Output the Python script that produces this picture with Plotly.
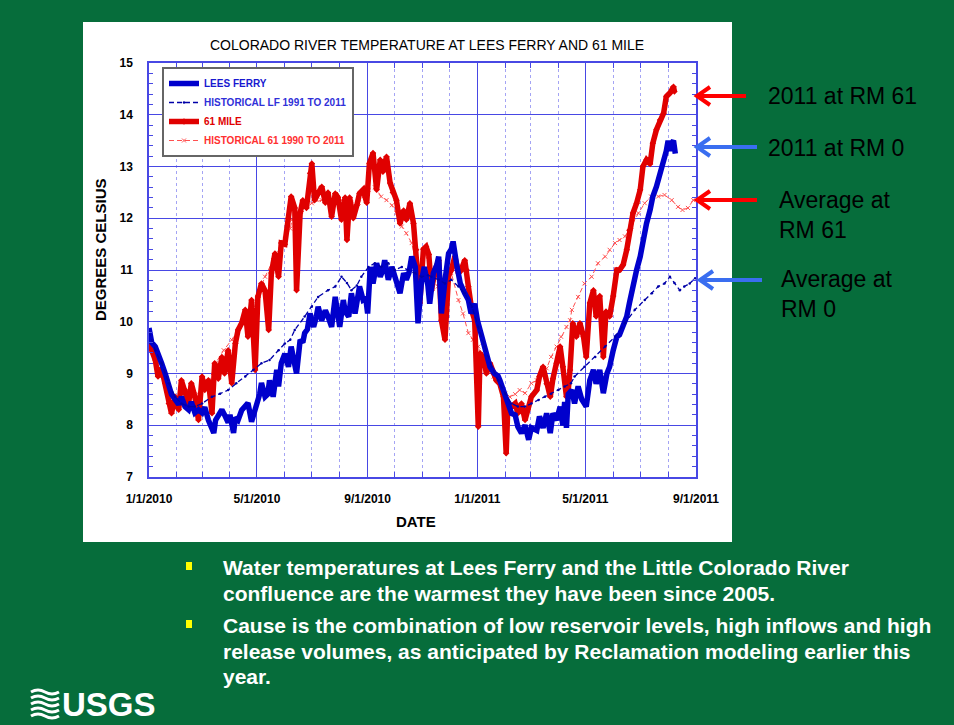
import plotly.graph_objects as go
import pandas as pd

# ---------------- data (days since 1/1/2010, degrees C) ----------------
BASE = pd.Timestamp("2010-01-01")

lf_day = [0, 3, 7, 10, 14, 18, 22, 25, 29, 33,
          36, 40, 44, 47, 51, 55, 59, 62, 66, 70,
          72, 74, 77, 81, 84, 88, 90, 92, 94, 96,
          99, 103, 107, 110, 114, 118, 120, 123, 125, 129,
          132, 134, 138, 140, 142, 144, 147, 151, 155, 158,
          162, 164, 168, 171, 173, 176, 179, 183, 186, 188,
          192, 196, 199, 203, 207, 210, 212, 216, 218, 222,
          225, 229, 232, 234, 238, 241, 243, 246, 249, 253,
          257, 260, 262, 266, 270, 273, 275, 279, 283, 286,
          289, 292, 296, 299, 303, 306, 310, 312, 316, 320,
          322, 325, 329, 333, 336, 338, 342, 346, 351, 355,
          358, 362, 365, 368, 372, 375, 379, 384, 388, 390,
          396, 399, 403, 407, 410, 414, 418, 422, 425, 431,
          434, 438, 442, 446, 449, 453, 457, 460, 462, 464,
          466, 470, 473, 477, 481, 486, 490, 494, 497, 501,
          505, 509, 512, 516, 520, 523, 527, 531, 534, 538,
          542, 546, 549, 553, 557, 560, 564, 568, 572, 575,
          577, 579, 581, 583, 585]
lf_temp = [9.88, 9.60, 9.52, 9.35, 9.20, 9.00, 8.80, 8.60, 8.50, 8.40,
           8.55, 8.36, 8.30, 8.45, 8.24, 8.30, 8.24, 8.35, 8.10, 7.95,
           7.85, 8.10, 8.17, 8.30, 8.20, 8.05, 8.20, 7.95, 7.85, 8.15,
           8.10, 8.29, 8.35, 8.43, 8.07, 8.30, 8.43, 8.60, 8.82, 8.55,
           8.60, 8.87, 8.55, 8.80, 9.07, 8.75, 9.20, 9.38, 9.13, 9.52,
           9.20, 9.00, 9.65, 9.60, 9.78, 9.85, 10.16, 9.90, 10.10, 10.29,
           10.03, 10.22, 10.10, 9.90, 10.48, 10.20, 9.90, 10.42, 10.20, 10.10,
           10.55, 10.16, 10.40, 10.68, 10.42, 10.45, 10.16, 11.06, 10.74, 11.13,
           10.87, 11.00, 11.19, 10.81, 11.06, 10.90, 10.81, 10.55, 10.94, 10.81,
           10.95, 11.26, 11.06, 9.97, 10.80, 11.06, 10.70, 10.35, 10.94, 11.10,
           11.26, 10.16, 10.80, 11.32, 11.40, 11.55, 11.10, 10.74, 10.55, 10.42,
           10.16, 10.35, 10.03, 9.84, 9.58, 9.32, 9.13, 9.00, 8.95, 8.87,
           8.55, 8.36, 8.23, 8.20, 7.97, 7.85, 8.00, 7.72, 7.95, 7.90,
           8.17, 7.95, 8.23, 7.85, 8.23, 8.10, 8.36, 8.00, 8.45, 7.95,
           8.60, 8.68, 8.42, 8.75, 8.50, 8.36, 8.87, 9.07, 8.80, 9.07,
           8.62, 9.00, 9.13, 9.45, 9.71, 9.75, 9.90, 10.10, 10.36, 10.74,
           11.00, 11.26, 11.58, 11.90, 12.16, 12.42, 12.61, 12.87, 13.06, 13.30,
           13.50, 13.30, 13.45, 13.50, 13.25]

hlf_day = [0, 7, 14, 22, 29, 36, 44, 51, 59, 70,
           79, 88, 97, 107, 116, 125, 134, 144, 151, 157,
           162, 173, 181, 188, 199, 207, 214, 220, 225, 231,
           236, 244, 251, 258, 266, 273, 281, 288, 296, 303,
           310, 314, 322, 329, 336, 344, 351, 359, 366, 373,
           381, 388, 396, 403, 410, 418, 425, 433, 440, 447,
           455, 462, 469, 473, 484, 496, 507, 518, 529, 540,
           551, 559, 566, 573, 579, 584, 590, 595, 601, 607]
hlf_temp = [9.81, 9.45, 9.20, 8.81, 8.55, 8.42, 8.36, 8.36, 8.42, 8.55,
            8.61, 8.68, 8.81, 8.94, 9.07, 9.20, 9.26, 9.45, 9.58, 9.65,
            9.84, 10.10, 10.29, 10.48, 10.61, 10.68, 10.87, 10.75, 10.61, 10.70,
            10.87, 11.06, 11.13, 11.06, 11.13, 11.00, 11.06, 11.00, 10.94, 10.87,
            10.90, 10.87, 10.81, 10.74, 10.81, 10.68, 10.55, 10.29, 9.90, 9.52,
            9.13, 8.87, 8.61, 8.42, 8.36, 8.36, 8.42, 8.49, 8.55, 8.61,
            8.68, 8.75, 8.81, 8.94, 9.13, 9.32, 9.52, 9.71, 9.97, 10.23,
            10.42, 10.55, 10.68, 10.74, 10.87, 10.75, 10.61, 10.68, 10.74, 10.84]

rm_day = [0, 3, 7, 10, 14, 18, 22, 25, 29, 33,
          36, 40, 44, 47, 51, 55, 59, 62, 66, 70,
          73, 77, 81, 84, 88, 92, 96, 99, 103, 107,
          110, 114, 118, 121, 125, 129, 133, 136, 140, 144,
          147, 151, 155, 158, 162, 164, 168, 171, 175, 179,
          181, 184, 188, 192, 196, 199, 203, 207, 210, 214,
          218, 220, 223, 227, 231, 234, 238, 242, 245, 249,
          253, 257, 260, 264, 268, 271, 275, 279, 283, 286,
          290, 294, 297, 299, 301, 305, 308, 311, 314, 318,
          322, 325, 329, 333, 336, 340, 344, 347, 351, 353,
          355, 359, 362, 366, 368, 372, 375, 379, 383, 386,
          390, 394, 397, 399, 403, 407, 410, 414, 418, 421,
          425, 431, 434, 438, 442, 446, 449, 453, 457, 460,
          464, 466, 468, 471, 475, 479, 483, 486, 490, 494,
          497, 501, 505, 508, 512, 516, 520, 523, 527, 531,
          534, 538, 542, 546, 549, 553, 557, 560, 564, 568,
          572, 575, 579, 583, 584]
rm_temp = [9.70, 9.45, 9.26, 8.94, 9.10, 8.81, 8.42, 8.23, 8.55, 8.30,
           8.87, 8.68, 8.42, 8.81, 8.55, 8.10, 8.94, 8.68, 8.87, 8.23,
           9.20, 8.90, 9.32, 9.00, 9.45, 8.81, 9.58, 9.84, 9.97, 10.23,
           9.71, 10.42, 9.07, 10.48, 10.74, 10.60, 9.84, 10.94, 11.32, 10.87,
           11.52, 11.50, 12.00, 12.42, 12.20, 10.61, 12.10, 12.35, 12.20, 12.87,
           13.06, 12.35, 12.50, 12.61, 12.30, 12.50, 12.03, 12.48, 12.40, 11.97,
           12.40, 11.58, 12.40, 12.00, 12.25, 12.48, 12.55, 12.30, 13.06, 13.26,
           12.55, 13.13, 12.90, 13.19, 12.68, 12.50, 12.35, 11.90, 12.15, 11.97,
           12.29, 11.90, 11.39, 10.81, 10.36, 11.40, 11.45, 11.30, 10.61, 11.00,
           11.19, 10.03, 9.65, 10.90, 11.00, 11.26, 10.94, 11.00, 11.19, 11.00,
           10.68, 10.20, 10.03, 7.97, 9.39, 9.30, 9.00, 9.20, 9.00, 8.87,
           8.80, 8.55, 7.46, 8.42, 8.36, 8.42, 8.23, 8.42, 8.10, 8.30,
           8.55, 8.68, 8.94, 9.13, 8.80, 8.55, 8.90, 9.20, 9.52, 9.13,
           8.55, 8.68, 9.07, 9.97, 9.71, 9.97, 9.71, 9.32, 10.36, 10.61,
           10.10, 10.50, 9.32, 10.20, 10.10, 10.50, 11.00, 11.00, 11.10, 11.39,
           11.77, 12.10, 12.29, 12.55, 13.00, 13.13, 13.05, 13.45, 13.71, 13.90,
           14.03, 14.35, 14.42, 14.54, 14.45]

h61_day = [0, 10, 22, 33, 44, 55, 66, 74, 83, 92,
           101, 110, 120, 129, 138, 147, 151, 157, 159, 170,
           181, 192, 203, 214, 225, 233, 244, 251, 258, 264,
           270, 275, 281, 286, 292, 297, 303, 307, 314, 321,
           329, 336, 344, 349, 355, 360, 366, 371, 377, 383,
           390, 396, 401, 407, 412, 418, 425, 431, 436, 442,
           447, 453, 458, 464, 468, 470, 477, 484, 492, 499,
           507, 512, 518, 523, 529, 536, 544, 551, 558, 566,
           573, 581, 588, 593, 599, 605]
h61_temp = [9.71, 9.20, 8.60, 8.42, 8.55, 8.60, 8.81, 9.20, 9.45, 9.65,
            9.90, 10.16, 10.48, 10.87, 11.19, 11.52, 11.60, 11.80, 11.97, 12.16,
            12.29, 12.35, 12.30, 12.35, 12.30, 12.30, 12.55, 12.60, 12.42, 12.35,
            12.25, 12.10, 11.84, 11.71, 11.52, 11.13, 10.94, 11.30, 11.00, 10.68,
            10.60, 10.94, 10.42, 10.16, 9.78, 9.65, 9.52, 9.32, 9.13, 8.94,
            8.81, 8.61, 8.55, 8.60, 8.68, 8.62, 8.81, 8.87, 9.00, 9.10,
            9.32, 9.52, 9.71, 9.90, 10.03, 10.23, 10.48, 10.74, 10.87, 11.13,
            11.26, 11.39, 11.52, 11.58, 11.65, 11.84, 12.10, 12.29, 12.42, 12.42,
            12.45, 12.35, 12.22, 12.16, 12.20, 12.35]

x_ticks = ["2010-01-01", "2010-05-01", "2010-09-01", "2011-01-01", "2011-05-01", "2011-09-01"]
x_ticktext = ["1/1/2010", "5/1/2010", "9/1/2010", "1/1/2011", "5/1/2011", "9/1/2011"]

TITLE = "COLORADO RIVER TEMPERATURE AT LEES FERRY AND 61 MILE"
callouts = ["2011 at RM 61", "2011 at RM 0", "Average at<br>RM 61", "Average at<br>RM 0"]
bullets = [["Water temperatures at Lees Ferry and the Little Colorado River",
            "confluence are the warmest they have been since 2005."],
           ["Cause is the combination of low reservoir levels, high inflows and high",
            "release volumes, as anticipated by Reclamation modeling earlier this",
            "year."]]


def dates(days):
    return BASE + pd.to_timedelta(days, unit="D")


# ---------------- layout helpers (pixel -> paper) ----------------
W, H = 954, 725
L, R, T, B = 149, 696, 63, 477


def px(x):
    return (x - L) / (R - L)


def py(y):
    return (B - y) / (B - T)


GREEN = "#066D3B"
BLUE = "#0000CC"
RED = "#E00000"
GRID = "#4848E4"
FONT = "Liberation Sans, Arial, sans-serif"

fig = go.Figure()

fig.add_trace(go.Scatter(
    x=dates(h61_day), y=h61_temp, mode="lines+markers",
    name='<span style="color:#FF3030">HISTORICAL 61 1990 TO 2011</span>',
    line=dict(color="#FF5050", width=1, dash="5px,3px"),
    marker=dict(symbol="x-thin", size=4, line=dict(color="#FF5050", width=1)),
    legendrank=4))
fig.add_trace(go.Scatter(
    x=dates(rm_day), y=rm_temp, mode="lines+markers",
    name='<span style="color:#E00000">61 MILE</span>',
    line=dict(color=RED, width=5.5),
    marker=dict(symbol="diamond", size=5, color=RED),
    legendrank=3))
fig.add_trace(go.Scatter(
    x=dates(lf_day), y=lf_temp, mode="lines",
    name='<span style="color:#1818D0">LEES FERRY</span>',
    line=dict(color=BLUE, width=5.5),
    legendrank=1))
fig.add_trace(go.Scatter(
    x=dates(hlf_day), y=hlf_temp, mode="lines+markers",
    name='<span style="color:#3030D8">HISTORICAL LF 1991 TO 2011</span>',
    line=dict(color="#0000A8", width=1.3, dash="5px,3px"),
    marker=dict(symbol="circle", size=2.5, color="#0000A8"),
    legendrank=2))

shapes = [dict(type="rect", xref="paper", yref="paper",
               x0=px(83), x1=px(732), y0=py(542), y1=py(22),
               fillcolor="white", line=dict(width=0), layer="below")]

# callout arrows
arrow_specs = [(697, 96, 746, "#FF0000"), (697, 147, 757, "#3A6EF0"),
               (697, 200, 757, "#FF0000"), (700, 280, 762, "#3A6EF0")]
for tipx, ay, tailx, col in arrow_specs:
    shapes.append(dict(type="line", xref="paper", yref="paper",
                       x0=px(tipx + 2), y0=py(ay), x1=px(tailx), y1=py(ay),
                       line=dict(color=col, width=4)))
    shapes.append(dict(type="path", xref="paper", yref="paper",
                       path=f"M {px(tipx + 13)},{py(ay - 9)} L {px(tipx)},{py(ay)} L {px(tipx + 13)},{py(ay + 9)}",
                       line=dict(color=col, width=4)))

# bullets
for by in (566, 624):
    shapes.append(dict(type="rect", xref="paper", yref="paper",
                       x0=px(186), x1=px(192), y0=py(by + 4), y1=py(by - 4),
                       fillcolor="#FFFF00", line=dict(width=0)))

# USGS emblem (decorative waves)
for k in range(5):
    yy = 692 + k * 6
    shapes.append(dict(type="path", xref="paper", yref="paper",
                       path=(f"M {px(31)},{py(yy)} Q {px(38)},{py(yy - 4)} {px(45)},{py(yy)} "
                             f"Q {px(52)},{py(yy + 4)} {px(59)},{py(yy)}"),
                       line=dict(color="white", width=3)))

annotations = [
    dict(text=TITLE, x=px(427), y=py(45), xref="paper", yref="paper",
         showarrow=False, xanchor="center", yanchor="middle",
         font=dict(family=FONT, size=14, color="black")),
    dict(text="DEGREES CELSIUS", x=px(100), y=py(250), xref="paper", yref="paper",
         showarrow=False, textangle=-90, xanchor="center", yanchor="middle",
         font=dict(family=FONT, size=15, color="black", weight="bold")),
    dict(text="DATE", x=px(416), y=py(521), xref="paper", yref="paper",
         showarrow=False, xanchor="center", yanchor="middle",
         font=dict(family=FONT, size=15, color="black", weight="bold")),
]

callout_pos = [(766, 96), (766, 148), (777, 215), (779, 294)]
for txt, (cx, cy) in zip(callouts, callout_pos):
    annotations.append(dict(text=txt, x=px(cx), y=py(cy), xref="paper", yref="paper",
                            showarrow=False, xanchor="left", yanchor="middle", align="left",
                            font=dict(family=FONT, size=23, color="black")))

line_y = [[567, 593], [625, 651, 676]]
for group, ys in zip(bullets, line_y):
    for txt, ly in zip(group, ys):
        annotations.append(dict(text=txt, x=px(221), y=py(ly), xref="paper", yref="paper",
                                showarrow=False, xanchor="left", yanchor="middle",
                                font=dict(family=FONT, size=21, color="white", weight="bold")))

annotations.append(dict(text="USGS", x=px(60), y=py(704), xref="paper", yref="paper",
                        showarrow=False, xanchor="left", yanchor="middle",
                        font=dict(family=FONT, size=33, color="white", weight="bold")))

tickfont = dict(family=FONT, size=12, color="black", weight="bold")

fig.update_layout(
    width=W, height=H,
    margin=dict(l=L, r=W - R, t=T, b=H - B, pad=0),
    paper_bgcolor=GREEN, plot_bgcolor="white",
    shapes=shapes, annotations=annotations,
    showlegend=True,
    legend=dict(x=px(162), y=py(67), xanchor="left", yanchor="top",
                bgcolor="white", bordercolor="#666666", borderwidth=2,
                font=dict(family=FONT, size=10, color="#2020D0", weight="bold"),
                tracegroupgap=0, itemwidth=30, traceorder="normal"),
    xaxis=dict(range=[BASE, pd.Timestamp("2011-09-01")], type="date",
               tickmode="array", tickvals=x_ticks, ticktext=x_ticktext,
               tickfont=tickfont, ticklabelstandoff=10,
               showgrid=True, gridcolor=GRID, gridwidth=1,
               showline=True, linecolor=GRID, linewidth=1.5, mirror="allticks",
               ticks="inside", ticklen=5, tickcolor=GRID, zeroline=False,
               minor=dict(dtick="M1", tick0="2010-01-01", showgrid=True,
                          gridcolor="#A4A4F4", griddash="dot", gridwidth=1,
                          ticks="inside", ticklen=5, tickcolor=GRID)),
    yaxis=dict(range=[7, 15], tickmode="linear", tick0=7, dtick=1,
               tickfont=tickfont, ticklabelstandoff=12,
               showgrid=True, gridcolor=GRID, gridwidth=1,
               showline=True, linecolor=GRID, linewidth=1.5, mirror="allticks",
               ticks="inside", ticklen=5, tickcolor=GRID, zeroline=False,
               minor=dict(dtick=0.2, tick0=7, showgrid=False,
                          ticks="inside", ticklen=4, tickcolor=GRID)),
)

fig.write_html("out.html", config={"displayModeBar": False},
               post_script="document.body.style.margin='0';document.body.style.overflow='hidden';")
